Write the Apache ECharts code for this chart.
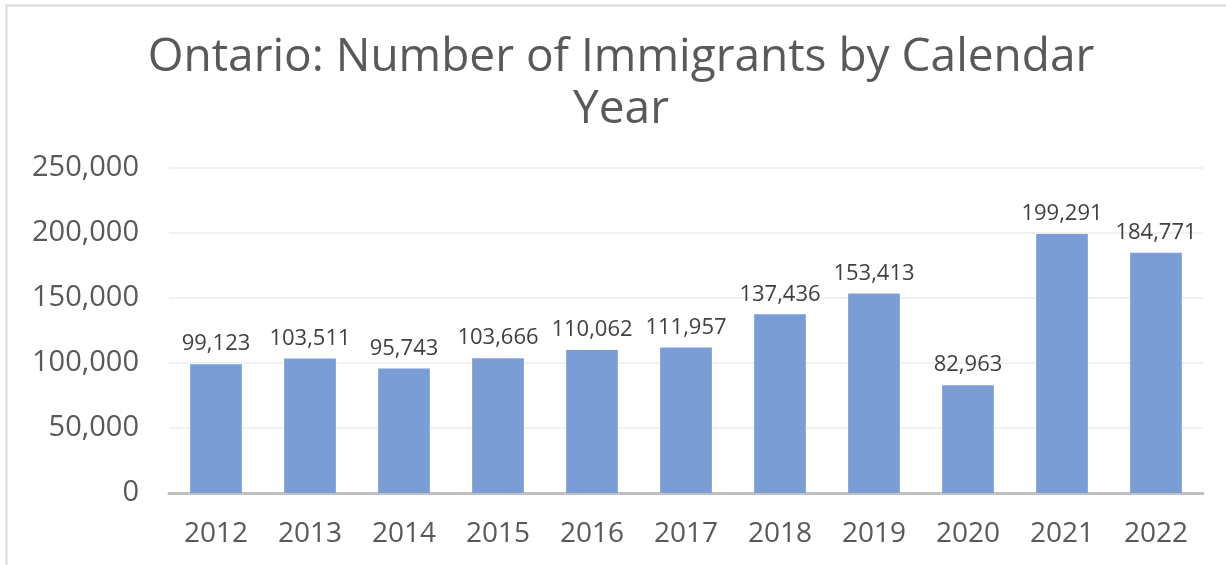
<!DOCTYPE html>
<html>
<head>
<meta charset="utf-8">
<script src="https://cdn.jsdelivr.net/npm/echarts@6/dist/echarts.min.js"></script>
<style>
  html, body { margin: 0; padding: 0; background: #fff; }
  #chart { width: 1226px; height: 565px; }
</style>
</head>
<body>
<div id="chart"></div>
<script>
// Immigrants landing in Ontario per calendar year
const years = ['2012', '2013', '2014', '2015', '2016', '2017', '2018', '2019', '2020', '2021', '2022'];
const immigrants = [99123, 103511, 95743, 103666, 110062, 111957, 137436, 153413, 82963, 199291, 184771];
const yTicks = [0, 50000, 100000, 150000, 200000, 250000];

const FONT = '"Open Sans"';
const fmt = v => v.toLocaleString('en-US');

const chart = echarts.init(document.getElementById('chart'), null, { renderer: 'canvas' });
chart.setOption({
  animation: false,
  backgroundColor: '#ffffff',
  graphic: [{
    type: 'rect',
    shape: { x: 6.5, y: 5.5, width: 1240, height: 600 },
    style: { fill: 'none', stroke: '#d9d9d9', lineWidth: 2 },
    silent: true
  }],
  title: {
    text: 'Ontario: Number of Immigrants by Calendar\nYear',
    left: 616,
    top: 27,
    textAlign: 'center',
    textStyle: {
      fontFamily: FONT,
      fontSize: 46,
      fontWeight: 'normal',
      color: '#595959',
      lineHeight: 52
    }
  },
  grid: { left: 169, right: 23, top: 168, bottom: 72, containLabel: false },
  xAxis: {
    type: 'category',
    data: years,
    axisLine: { lineStyle: { color: '#bfbfbf', width: 3 } },
    axisTick: { show: false },
    axisLabel: {
      margin: 27,
      fontFamily: FONT,
      fontSize: 28,
      color: '#595959'
    }
  },
  yAxis: {
    type: 'value',
    min: yTicks[0],
    max: yTicks[yTicks.length - 1],
    interval: yTicks[1] - yTicks[0],
    axisLine: { show: false },
    axisTick: { show: false },
    splitLine: { lineStyle: { color: '#ececec', width: 1.5 } },
    axisLabel: {
      margin: 30,
      fontFamily: FONT,
      fontSize: 29,
      color: '#595959',
      formatter: fmt
    }
  },
  series: [{
    type: 'bar',
    data: immigrants,
    barCategoryGap: '45%',
    itemStyle: { color: '#7b9dd5' },
    label: {
      show: true,
      position: 'top',
      distance: 9,
      fontFamily: FONT,
      fontSize: 22,
      color: '#404040',
      formatter: p => fmt(p.value)
    }
  }]
});
</script>
</body>
</html>
